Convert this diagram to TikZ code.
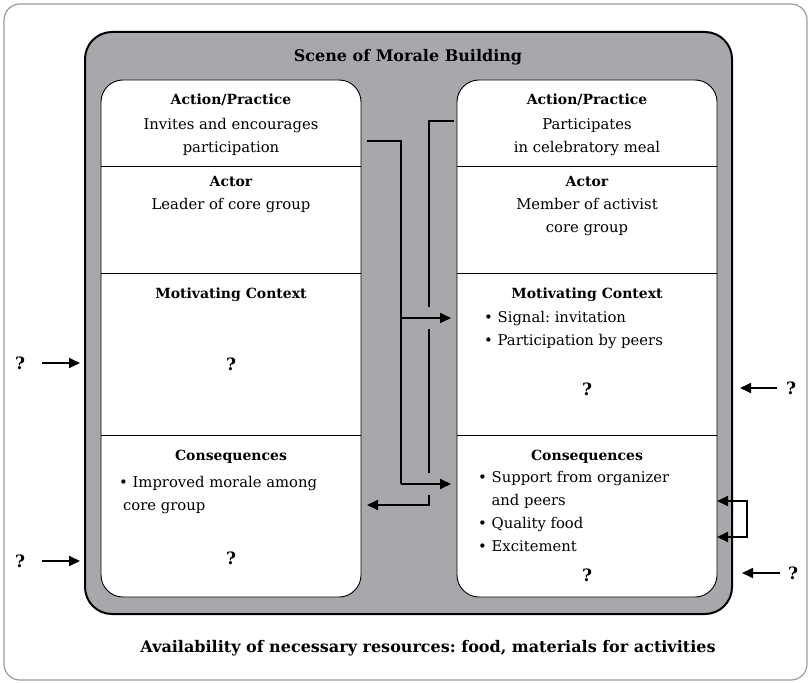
\documentclass[tikz,border=0pt]{standalone}
\usepackage{fontspec}
\setmainfont{DejaVu Serif}
\usetikzlibrary{arrows.meta}
\definecolor{scenegray}{HTML}{A7A8AC}
\definecolor{framegray}{HTML}{9C9C9C}
\frenchspacing
\begin{document}
\begin{tikzpicture}[x=1pt,y=-1pt,
  txt/.style={inner sep=0pt, font=\fontsize{14.8}{22.8}\selectfont},
  head/.style={txt, font=\fontsize{14}{22}\selectfont\bfseries, anchor=base},
  big/.style={txt, font=\fontsize{16}{20}\selectfont\bfseries, anchor=base},
  % multi-line texts are placed by the baseline of their last line
  body/.style={txt, align=center, anchor=base},
  bullets/.style={txt, align=left, anchor=base west},
  qmark/.style={txt, font=\fontsize{17}{19}\selectfont\bfseries, anchor=base},
  panel/.style={draw=black, line width=0.9pt, fill=white, rounded corners=22pt},
  divider/.style={line width=0.9pt},
  conn/.style={line width=1.8pt},
  tip/.style={-{Triangle[length=11pt,width=10pt]}},
  tips/.style={{Triangle[length=11pt,width=10pt]}-{Triangle[length=11pt,width=10pt]}}
]
\useasboundingbox (0,0) rectangle (810,682);

% outer frame and scene box
\draw[framegray, line width=1.2pt, rounded corners=16pt] (4,4) rectangle (807,680);
\draw[fill=scenegray, line width=2pt, rounded corners=27pt] (85,32) rectangle (732,614);
\node[big] (title) at (408,62) {Scene of Morale Building};

% two panels
\draw[panel] (101,80) rectangle (361,597);
\draw[panel] (457,80) rectangle (717,597);
\foreach \y in {166,273,435}{
  \draw[divider] (101,\y) -- (361,\y);
  \draw[divider] (457,\y) -- (717,\y);
}

% left panel texts
\node[head] (lap) at (231,104) {Action/Practice};
\node[body] (lapt) at (231,152) {Invites and encourages\\participation};
\node[head] (lac) at (231,186) {Actor};
\node[body] (lact) at (231,209) {Leader of core group};
\node[head] (lmc) at (231,298) {Motivating Context};
\node[qmark] (lmq) at (231,370) {?};
\node[head] (lco) at (231,460) {Consequences};
\node[bullets] (lcot) at (119,510) {\textbullet\ Improved morale among\\\hspace{4pt}core group};
\node[qmark] (lcq) at (231,564) {?};

% right panel texts
\node[head] (rap) at (587,104) {Action/Practice};
\node[body] (rapt) at (587,152) {Participates\\in celebratory meal};
\node[head] (rac) at (587,186) {Actor};
\node[body] (ract) at (587,232) {Member of activist\\core group};
\node[head] (rmc) at (587,298) {Motivating Context};
\node[bullets] (rmct) at (484,345) {\textbullet\ Signal: invitation\\\textbullet\ Participation by peers};
\node[qmark] (rmq) at (587,395) {?};
\node[head] (rco) at (587,460) {Consequences};
\node[bullets] (rcot) at (478,551) {\textbullet\ Support from organizer\\\phantom{\textbullet\ }and peers\\\textbullet\ Quality food\\\textbullet\ Excitement};
\node[qmark] (rcq) at (587,581) {?};

% connector from the leader's invitation
\coordinate (a0) at (367,141);
\coordinate (a1) at (401,141);
\coordinate (a2) at (401,318);
\coordinate (a3) at (401,484);
\coordinate (amc) at (451,318);
\coordinate (aco) at (451,484);
\draw[conn] (a0) -- (a1) -- (a3);
\draw[conn,tip] (a2) -- (amc);
\draw[conn,tip] (a3) -- (aco);

% connector back from the member's participation, bridged over the crossings
\coordinate (b0) at (454,121);
\coordinate (b1) at (429,121);
\coordinate (b2) at (429,307);
\coordinate (b3) at (429,329);
\coordinate (b4) at (429,473);
\coordinate (b5) at (429,495);
\coordinate (b6) at (429,505);
\coordinate (bco) at (367,505);
\draw[conn] (b0) -- (b1) -- (b2);
\draw[conn] (b3) -- (b4);
\draw[conn,tip] (b5) -- (b6) -- (bco);

% feedback loop on the right consequences
\coordinate (r1) at (717,501);
\coordinate (r2) at (717,537);
\draw[conn,tips] (r1) -- ++(30,0) |- (r2);

% outside influences
\node[qmark] (q1) at (20,369) {?};
\node[qmark] (q2) at (20,567) {?};
\node[qmark] (q3) at (791,394) {?};
\node[qmark] (q4) at (793,579) {?};
\coordinate (l1) at (80,363);
\coordinate (l2) at (80,561);
\coordinate (s1) at (740,388);
\coordinate (s2) at (742,573);
\draw[conn,tip] (l1 -| 42,0) -- (l1);
\draw[conn,tip] (l2 -| 42,0) -- (l2);
\draw[conn,tip] (s1 -| 777,0) -- (s1);
\draw[conn,tip] (s2 -| 780,0) -- (s2);

\node[big] (res) at (428,652) {Availability of necessary resources: food, materials for activities};
\end{tikzpicture}
\end{document}
